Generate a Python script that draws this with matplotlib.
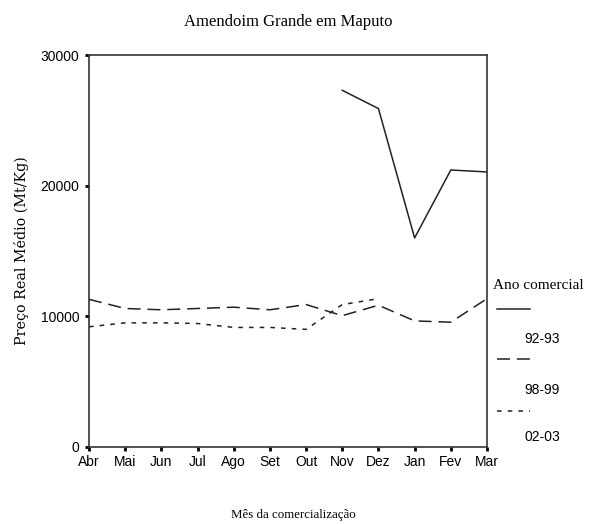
import matplotlib
matplotlib.use("Agg")
import matplotlib.pyplot as plt
from matplotlib.lines import Line2D

meses = ["Abr", "Mai", "Jun", "Jul", "Ago", "Set", "Out", "Nov", "Dez", "Jan", "Fev", "Mar"]
anos = ["92-93", "98-99", "02-03"]

# 92-93 only has data from Nov onwards
preco_92_93 = [None, None, None, None, None, None, None, 27300, 25900, 16000, 21200, 21050]
preco_98_99 = [11300, 10600, 10500, 10600, 10700, 10500, 10900, 10050, 10850, 9650, 9550, 11350]
preco_02_03 = [9200, 9500, 9500, 9450, 9150, 9150, 9000, 10900, 11350, None, None, None]

yticks = [0, 10000, 20000, 30000]

fig = plt.figure(figsize=(5.91, 5.24), dpi=100)
ax = fig.add_axes([0.1506, 0.147, 0.6734, 0.748])

x = list(range(len(meses)))

def pares(vals):
    xs = [i for i, v in zip(x, vals) if v is not None]
    ys = [v for v in vals if v is not None]
    return xs, ys

estilos = ["-", (0, (8.5, 4.5)), (0, (3, 4))]
series = [preco_92_93, preco_98_99, preco_02_03]
for vals, ls in zip(series, estilos):
    xs, ys = pares(vals)
    ax.plot(xs, ys, color="#222222", lw=1.1, linestyle=ls)

ax.set_xlim(0, len(meses) - 1)
ax.set_ylim(0, 30000)
ax.set_xticks(x)
ax.set_xticklabels(meses, fontfamily="Liberation Sans", fontsize=10)
ax.set_yticks(yticks)
ax.set_yticklabels([str(v) for v in yticks], fontfamily="Liberation Sans", fontsize=10)
ax.tick_params(direction="out", length=3, width=2, color="black")
ax.tick_params(axis="x", pad=3)
ax.tick_params(axis="y", pad=4)
for s in ax.spines.values():
    s.set_color("#333333")
    s.set_linewidth(1.2)

fig.text(0.487, 0.958, "Amendoim Grande em Maputo", ha="center", va="center",
         fontfamily="Liberation Serif", fontsize=12)
fig.text(0.497, 0.017, "Mês da comercialização", ha="center", va="center",
         fontfamily="Liberation Serif", fontsize=9.3)
fig.text(0.037, 0.522, "Preço Real Médio (Mt/Kg)", ha="center", va="center", rotation=90,
         fontfamily="DejaVu Serif", fontsize=10.3)

# legenda manual
fig.text(0.834, 0.456, "Ano comercial", ha="left", va="center",
         fontfamily="Liberation Serif", fontsize=11)
ly = [0.410, 0.315, 0.216]
lab_y = [0.353, 0.256, 0.166]
for nome, ls, yy, ty in zip(anos, estilos, ly, lab_y):
    fig.add_artist(Line2D([0.841, 0.896], [yy, yy], transform=fig.transFigure,
                          color="#222222", lw=1.1, linestyle=ls))
    fig.text(0.888, ty, nome, ha="left", va="center",
             fontfamily="Liberation Sans", fontsize=10)

fig.savefig("out.png", dpi=100)
